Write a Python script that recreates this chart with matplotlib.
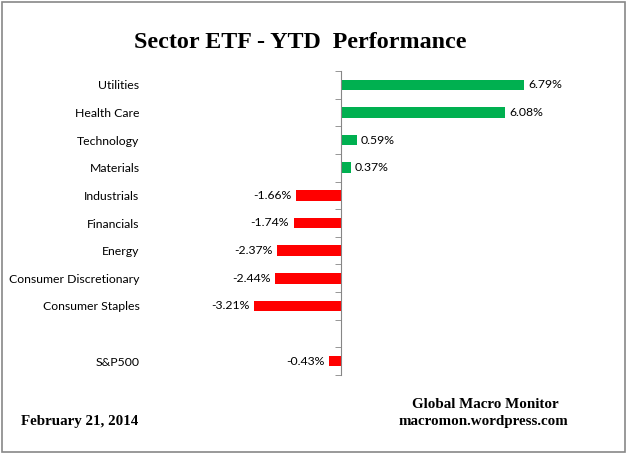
import matplotlib
matplotlib.use("Agg")
import matplotlib.pyplot as plt
from matplotlib.patches import Rectangle

# data
sectors = ['Utilities', 'Health Care', 'Technology', 'Materials', 'Industrials',
           'Financials', 'Energy', 'Consumer Discretionary', 'Consumer Staples',
           '', 'S&P500']
ytd = [6.79, 6.08, 0.59, 0.37, -1.66, -1.74, -2.37, -2.44, -3.21, None, -0.43]

fig = plt.figure(figsize=(6.26, 4.55), dpi=100)
ax = fig.add_axes([145/626, 1 - 375/455, 455/626, 304/455])

pos = list(range(len(sectors)))
for i, v in zip(pos, ytd):
    if v is None:
        continue
    col = '#00B050' if v >= 0 else '#FF0000'
    ax.barh(i, v, height=0.38, color=col)
    if v >= 0:
        ax.text(v + 0.15, i, f'{v:.2f}%', va='center', ha='left', fontsize=8.8, family='Lato')
    else:
        ax.text(v - 0.18, i, f'{v:.2f}%', va='center', ha='right', fontsize=8.8, family='Lato')

ax.set_xlim(-7.27, 9.61)
ax.set_ylim(len(sectors) - 0.5, -0.5)

for s in ['top', 'right', 'bottom']:
    ax.spines[s].set_visible(False)
ax.spines['left'].set_position(('data', 0))
ax.spines['left'].set_color('#868686')
ax.set_xticks([])
ax.set_yticks(pos)
ax.set_yticklabels(sectors, fontsize=8.8, family='Lato')
ax.tick_params(axis='y', which='major', length=0, pad=145)
ax.set_yticks([p - 0.5 for p in pos] + [pos[-1] + 0.5], minor=True)
ax.tick_params(axis='y', which='minor', length=4, color='#868686', direction='out')

fig.text(300/626, 1 - 42/455, 'Sector ETF - YTD  Performance', ha='center', va='center',
         fontsize=17.3, fontweight='bold', family='Liberation Serif')
fig.text(21/626, 1 - 422/455, 'February 21, 2014', ha='left', va='center',
         fontsize=10.8, fontweight='bold', family='Liberation Serif')
fig.text(485/626, 1 - 405/455, 'Global Macro Monitor', ha='center', va='center',
         fontsize=10.8, fontweight='bold', family='Liberation Serif')
fig.text(483/626, 1 - 422/455, 'macromon.wordpress.com', ha='center', va='center',
         fontsize=10.8, fontweight='bold', family='Liberation Serif')

fig.patches.append(Rectangle((1.5/626, 3/455), 623/626, 450/455, transform=fig.transFigure,
                             fill=False, edgecolor='#888888', linewidth=1.2))

fig.savefig('out.png', dpi=100)
